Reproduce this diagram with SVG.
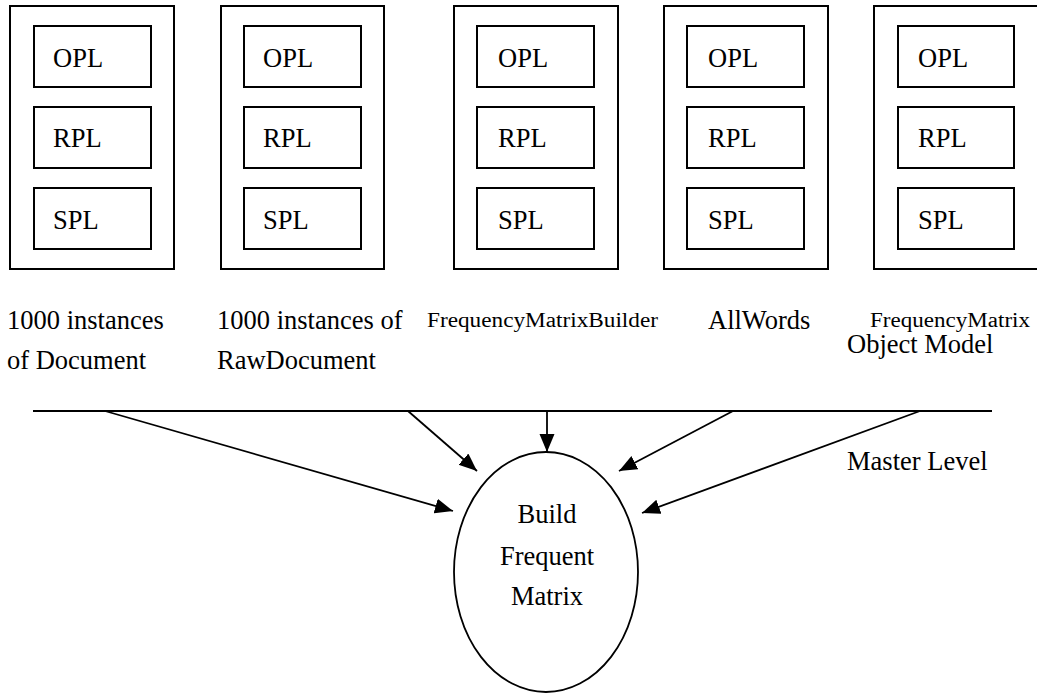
<svg xmlns="http://www.w3.org/2000/svg" width="1037" height="694" viewBox="0 0 1037 694">
  <style>
    .frame { fill: #fff; stroke: #000; stroke-width: 2; }
    .cell { fill: #fff; stroke: #000; stroke-width: 2; }
    text { font-family: "Liberation Serif", "DejaVu Serif", serif; fill: #000; }
    .t { font-size: 26.5px; }
    .ts { font-size: 20px; }
    .edge { stroke: #000; stroke-width: 1.8; fill: none; marker-end: url(#arrow); }
    .rule { stroke: #000; stroke-width: 2; }
  </style>
  <defs>
    <marker id="arrow" markerUnits="userSpaceOnUse" markerWidth="20" markerHeight="16" refX="18" refY="7.5" orient="auto">
      <path d="M0,0 L18,7.5 L0,15 Z" fill="#000"/>
    </marker>
  </defs>
  <rect width="1037" height="694" fill="#fff"/>

  <!-- object containers, each with its OPL / RPL / SPL layers -->
  <g id="obj-document">
    <rect class="frame" x="10" y="6" width="164" height="263"/>
    <rect class="cell" x="34" y="26" width="117" height="61"/>
    <rect class="cell" x="34" y="107" width="117" height="61"/>
    <rect class="cell" x="34" y="188" width="117" height="61"/>
    <text class="t" x="53" y="67" font-family="Liberation Serif, serif">OPL</text>
    <text class="t" x="53" y="147" font-family="Liberation Serif, serif">RPL</text>
    <text class="t" x="53" y="229" font-family="Liberation Serif, serif">SPL</text>
    <text class="t" x="7" y="329" font-family="Liberation Serif, serif">1000 instances</text>
    <text class="t" x="7" y="369" font-family="Liberation Serif, serif">of Document</text>
  </g>

  <g id="obj-rawdocument">
    <rect class="frame" x="221" y="6" width="163" height="263"/>
    <rect class="cell" x="244" y="26" width="117" height="61"/>
    <rect class="cell" x="244" y="107" width="117" height="61"/>
    <rect class="cell" x="244" y="188" width="117" height="61"/>
    <text class="t" x="263" y="67">OPL</text>
    <text class="t" x="263" y="147">RPL</text>
    <text class="t" x="263" y="229">SPL</text>
    <text class="t" x="217" y="329">1000 instances of</text>
    <text class="t" x="217" y="369">RawDocument</text>
  </g>

  <g id="obj-builder">
    <rect class="frame" x="454" y="6" width="164" height="263"/>
    <rect class="cell" x="477" y="26" width="117" height="61"/>
    <rect class="cell" x="477" y="107" width="117" height="61"/>
    <rect class="cell" x="477" y="188" width="117" height="61"/>
    <text class="t" x="498" y="67">OPL</text>
    <text class="t" x="498" y="147">RPL</text>
    <text class="t" x="498" y="229">SPL</text>
    <text class="ts" x="427" y="327" textLength="231" lengthAdjust="spacingAndGlyphs">FrequencyMatrixBuilder</text>
  </g>

  <g id="obj-allwords">
    <rect class="frame" x="664" y="6" width="164" height="263"/>
    <rect class="cell" x="687" y="26" width="117" height="61"/>
    <rect class="cell" x="687" y="107" width="117" height="61"/>
    <rect class="cell" x="687" y="188" width="117" height="61"/>
    <text class="t" x="708" y="67">OPL</text>
    <text class="t" x="708" y="147">RPL</text>
    <text class="t" x="708" y="229">SPL</text>
    <text class="t" x="708" y="329">AllWords</text>
  </g>

  <g id="obj-matrix">
    <rect class="frame" x="874" y="6" width="164" height="263"/>
    <rect class="cell" x="898" y="26" width="116" height="61"/>
    <rect class="cell" x="898" y="107" width="116" height="61"/>
    <rect class="cell" x="898" y="188" width="116" height="61"/>
    <text class="t" x="918" y="67">OPL</text>
    <text class="t" x="918" y="147">RPL</text>
    <text class="t" x="918" y="229">SPL</text>
    <text class="ts" x="870" y="327" textLength="160" lengthAdjust="spacingAndGlyphs">FrequencyMatrix</text>
  </g>

  <!-- level divider -->
  <g id="levels">
    <line class="rule" x1="33" y1="411" x2="992" y2="411"/>
    <text class="t" x="847" y="353">Object Model</text>
    <text class="t" x="847" y="470">Master Level</text>
  </g>

  <!-- master-level process -->
  <g id="build-matrix">
    <ellipse cx="546" cy="572" rx="92" ry="120" fill="#fff" stroke="#000" stroke-width="1.8"/>
    <text class="t" x="547" y="523" text-anchor="middle">Build</text>
    <text class="t" x="547" y="565" text-anchor="middle">Frequent</text>
    <text class="t" x="547" y="605" text-anchor="middle">Matrix</text>
  </g>

  <!-- connectors -->
  <g id="connectors">
    <line class="edge" x1="105" y1="411" x2="453" y2="511"/>
    <line class="edge" x1="408" y1="411" x2="477" y2="471"/>
    <line class="edge" x1="547" y1="411" x2="547" y2="452"/>
    <line class="edge" x1="733" y1="411" x2="619" y2="471"/>
    <line class="edge" x1="920" y1="411" x2="642" y2="513"/>
  </g>
</svg>
